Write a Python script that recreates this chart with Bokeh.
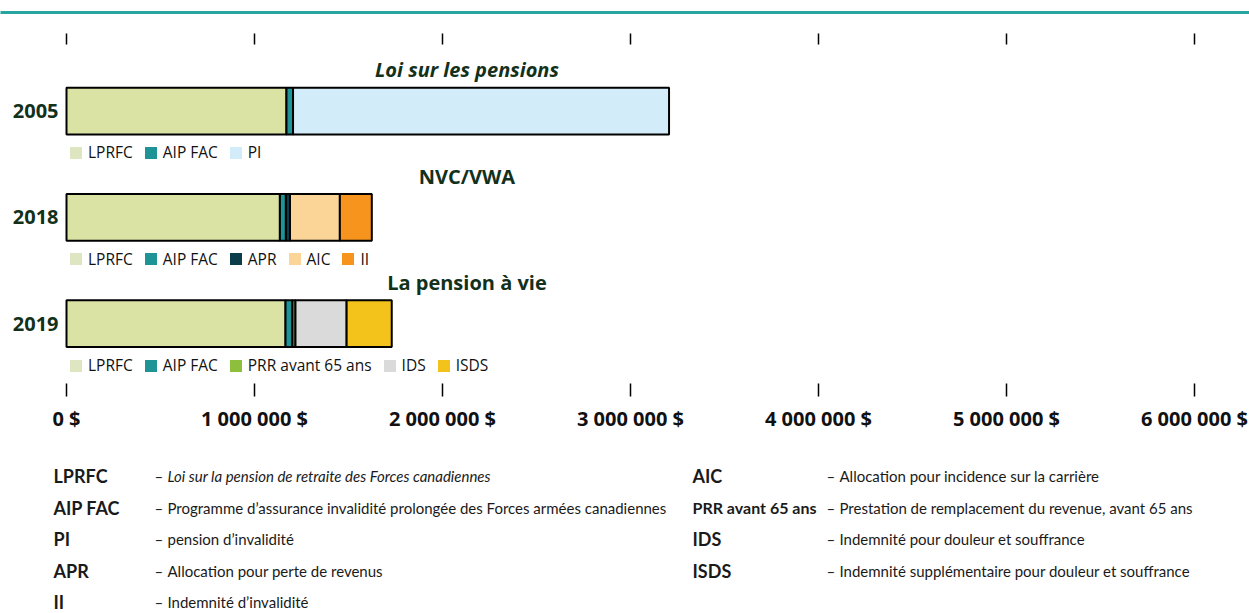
from bokeh.plotting import figure
from bokeh.models import Range1d, FixedTicker, LinearAxis, Legend, LegendItem, ColumnDataSource
from bokeh.layouts import column
from bokeh.embed import file_html
from bokeh.resources import INLINE
from bokeh.core.properties import value

# ---------------- data ----------------
years = ["2005", "2018", "2019"]
scheme_titles = ["Loi sur les pensions", "NVC/VWA", "La pension à vie"]
title_styles = ["bold italic", "bold", "bold"]

series_names = ["LPRFC", "AIP FAC", "PI", "APR", "AIC", "II", "PRR avant 65 ans", "IDS", "ISDS"]
LPRFC = [1170000, 1135000, 1165000]
AIP_FAC = [35000, 32000, 37000]
PI = [2000000, 0, 0]
APR = [0, 22000, 0]
AIC = [0, 265000, 0]
II = [0, 170000, 0]
PRR = [0, 0, 16000]
IDS = [0, 0, 272000]
ISDS = [0, 0, 240000]
series_values = [LPRFC, AIP_FAC, PI, APR, AIC, II, PRR, IDS, ISDS]

bar_colors = ["#dbe3a4", "#1e9497", "#d2ecf9", "#0b3c49", "#fbd597", "#f7941e", "#8dbf3c", "#d9dad9", "#f3c21b"]
legend_colors = ["#dde6c1", "#1e9497", "#d2ecf9", "#0b3c49", "#fbd597", "#f7941e", "#8dbf3c", "#d9dad9", "#f3c21b"]

legend_members = [
    ["LPRFC", "AIP FAC", "PI"],
    ["LPRFC", "AIP FAC", "APR", "AIC", "II"],
    ["LPRFC", "AIP FAC", "PRR avant 65 ans", "IDS", "ISDS"],
]

tick_values = [0, 1000000, 2000000, 3000000, 4000000, 5000000, 6000000]
tick_labels = ["0 $", "1 000 000 $", "2 000 000 $", "3 000 000 $", "4 000 000 $", "5 000 000 $", "6 000 000 $"]

abbr_left = ["LPRFC", "AIP FAC", "PI", "APR", "II"]
desc_left = ["Loi sur la pension de retraite des Forces canadiennes",
             "Programme d’assurance invalidité prolongée des Forces armées canadiennes",
             "pension d’invalidité",
             "Allocation pour perte de revenus",
             "Indemnité d’invalidité"]
desc_left_style = ["italic", "normal", "normal", "normal", "normal"]
abbr_right = ["AIC", "PRR avant 65 ans", "IDS", "ISDS"]
abbr_right_size = ["18px", "16px", "18px", "18px"]
desc_right = ["Allocation pour incidence sur la carrière",
              "Prestation de remplacement du revenue, avant 65 ans",
              "Indemnité pour douleur et souffrance",
              "Indemnité supplémentaire pour douleur et souffrance"]

# ---------------- layout constants (pixels) ----------------
W = 1249
MAIN_FONT = "Open Sans"
NOTE_FONT = "Lato"
DARK = "#12301a"
TEAL = "#26a69f"
PX_PER_DOLLAR = 188 / 1e6
ZERO_PX = 66            # position of 0 $ from the left edge
FRAME_TOP = 12          # teal rule
TICK_TOP = 44           # base of the upper tick marks
FRAME_BOTTOM = 384
BOTTOM_BORDER = 50
UNIT_PX = 106.5         # vertical distance between bars
FIRST_BAR_PX = 111      # centre of the first bar
BAR_H = 0.44
LEGEND_GAP = 42.5       # bar centre -> legend row centre

FRAME_H = FRAME_BOTTOM - FRAME_TOP
x0 = -ZERO_PX / PX_PER_DOLLAR
x1 = x0 + W / PX_PER_DOLLAR
y_top = -(FIRST_BAR_PX - FRAME_TOP) / UNIT_PX
y_bot = y_top + FRAME_H / UNIT_PX

# ---------------- main chart ----------------
p = figure(width=W, height=FRAME_BOTTOM + BOTTOM_BORDER,
           x_range=Range1d(x0, x1), y_range=Range1d(y_bot, y_top),
           y_axis_location=None,
           toolbar_location=None, output_backend="svg",
           min_border_left=0, min_border_right=0,
           min_border_top=FRAME_TOP, min_border_bottom=BOTTOM_BORDER)
p.grid.visible = False
p.outline_line_color = None

# stacked bars
cum = [0.0] * len(years)
for name, vals, col in zip(series_names, series_values, bar_colors):
    ys, ls, rs = [], [], []
    for i, v in enumerate(vals):
        if v > 0:
            ys.append(i)
            ls.append(cum[i])
            rs.append(cum[i] + v)
            cum[i] += v
    src = ColumnDataSource(dict(y=ys, left=ls, right=rs))
    p.hbar(y="y", left="left", right="right", height=BAR_H, source=src,
           fill_color=col, line_color="black", line_width=2)

# legend proxies (no outline, nothing drawn in the plot)
nan = float("nan")
proxies = {}
for name, col in zip(series_names, legend_colors):
    proxies[name] = p.hbar(y=[nan], left=[nan], right=[nan], height=BAR_H,
                           fill_color=col, line_alpha=0)

LEG_H = 21
for i, members in enumerate(legend_members):
    center = FIRST_BAR_PX + i * UNIT_PX + LEGEND_GAP
    vy = FRAME_BOTTOM - (center + LEG_H / 2)
    leg = Legend(items=[LegendItem(label=m, renderers=[proxies[m]]) for m in members],
                 orientation="horizontal", location=(ZERO_PX + 2, vy),
                 border_line_alpha=0, background_fill_alpha=0,
                 padding=0, margin=0, spacing=10,
                 glyph_width=15, glyph_height=15, label_standoff=5,
                 label_height=15,
                 label_text_font=MAIN_FONT, label_text_font_size="15.5px",
                 label_text_color="#111111")
    p.add_layout(leg)

# year labels at the left of each bar
p.text(x=[0] * len(years), y=list(range(len(years))), text=years, x_offset=-8,
       text_font=value(MAIN_FONT), text_font_size="20px", text_font_style="bold",
       text_color=DARK, text_align="right", text_baseline="middle")

# scheme titles
p.text(x=[2130000] * 3, y=[i - BAR_H / 2 - 18 / UNIT_PX for i in range(3)], text=scheme_titles,
       text_font=value(MAIN_FONT), text_font_size="20px", text_font_style=title_styles,
       text_color=DARK, text_align="center", text_baseline="middle")

# bottom axis
xa = p.xaxis[0]
xa.ticker = FixedTicker(ticks=tick_values, minor_ticks=[])
xa.major_label_overrides = dict(zip(tick_values, tick_labels))
xa.axis_line_color = None
xa.major_tick_in = 0
xa.major_tick_out = 13
xa.major_tick_line_width = 1.5
xa.major_tick_line_color = "black"
xa.minor_tick_line_color = None
xa.major_label_standoff = 8
xa.major_label_text_font = MAIN_FONT
xa.major_label_text_font_size = "20px"
xa.major_label_text_font_style = "bold"
xa.major_label_text_color = "#111111"

# teal rule along the top edge of the frame
rule_axis = LinearAxis(ticker=FixedTicker(ticks=[], minor_ticks=[]),
                       axis_line_color=TEAL, axis_line_width=3,
                       major_tick_in=0, major_tick_out=0,
                       major_tick_line_color=None, minor_tick_line_color=None,
                       major_label_standoff=0)
p.add_layout(rule_axis, "above")

# upper tick marks, fixed inside the frame
top_axis = LinearAxis(ticker=FixedTicker(ticks=tick_values, minor_ticks=[]),
                      fixed_location=y_top + (TICK_TOP - FRAME_TOP) / UNIT_PX,
                      major_label_overrides={v: "" for v in tick_values},
                      axis_line_color=None, major_tick_in=0, major_tick_out=11,
                      major_tick_line_width=1.5, major_tick_line_color="black",
                      minor_tick_line_color=None, major_label_standoff=0)
p.add_layout(top_axis, "above")

# ---------------- footnotes ----------------
H2 = 613 - (FRAME_BOTTOM + BOTTOM_BORDER)
p2 = figure(width=W, height=H2, x_range=Range1d(0, W), y_range=Range1d(H2, 0),
            x_axis_location=None, y_axis_location=None, toolbar_location=None,
            output_backend="svg", min_border=0)
p2.grid.visible = False
p2.outline_line_color = None

ROW0, ROW_STEP = 41.5, 31.6
rows_l = [ROW0 + k * ROW_STEP for k in range(len(abbr_left))]
rows_r = [ROW0 + k * ROW_STEP for k in range(len(abbr_right))]

common = dict(text_baseline="middle", text_align="left", text_color="#1a1a1a")
p2.text(x=[53] * len(abbr_left), y=rows_l, text=abbr_left, text_font=value(NOTE_FONT),
        text_font_size="18px", text_font_style="bold", **common)
p2.text(x=[154] * len(abbr_left), y=rows_l, text=["–"] * len(abbr_left), text_font=value(NOTE_FONT),
        text_font_size="15px", **common)
p2.text(x=[167] * len(abbr_left), y=rows_l, text=desc_left, text_font=value(NOTE_FONT),
        text_font_size="15px", text_font_style=desc_left_style, **common)

p2.text(x=[692] * len(abbr_right), y=rows_r, text=abbr_right, text_font=value(NOTE_FONT),
        text_font_size=abbr_right_size, text_font_style="bold", **common)
p2.text(x=[826] * len(abbr_right), y=rows_r, text=["–"] * len(abbr_right), text_font=value(NOTE_FONT),
        text_font_size="15px", **common)
p2.text(x=[839] * len(abbr_right), y=rows_r, text=desc_right, text_font=value(NOTE_FONT),
        text_font_size="15px", **common)

layout = column(p, p2, spacing=0)
open("out.html", "w").write(file_html(layout, INLINE))
